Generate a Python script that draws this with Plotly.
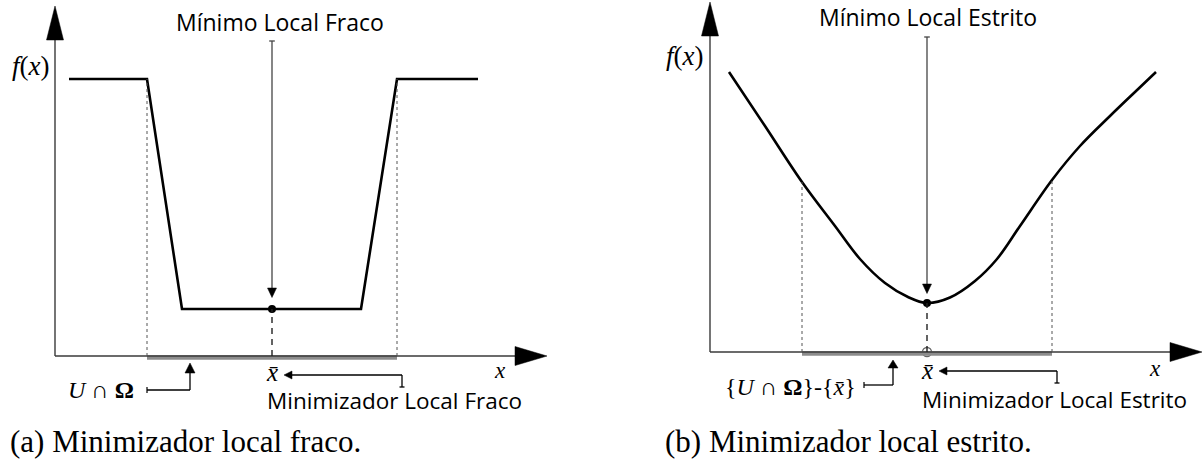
import numpy as np
import plotly.graph_objects as go

# ---------------- data ----------------
# (a) weak local minimizer: flat bottom
fraco_x = [1.4, 9.2, 12.7, 30.6, 34.2, 42.3]
fraco_y = [27.7, 27.7, 4.7, 4.7, 27.7, 27.7]

# (b) strict local minimizer: single smooth valley
estrito_x = [1.9, 5.5, 9.2, 12.5, 15.0, 17.5, 19.8, 21.7, 24.0, 26.5, 28.7, 31.0, 34.2, 37.0, 40.0, 42.5, 44.6]
estrito_y = [28.0, 22.6, 17.0, 12.6, 9.3, 6.9, 5.5, 4.9, 5.45, 7.1, 9.3, 12.6, 17.2, 20.6, 23.6, 26.0, 28.0]

vizinhanca = [9.2, 34.2]      # U ∩ Ω
x_barra = 21.7                # minimizer
f_min_fraco = 4.7
f_min_estrito = 4.9

titulos = ["Mínimo Local Fraco", "Mínimo Local Estrito"]
rotulos_min = ["Minimizador Local Fraco", "Minimizador Local Estrito"]
rotulos_viz = ["<i>U</i> ∩ <b>Ω</b>", "{<i>U</i> ∩ <b>Ω</b>}-{<i>x\u0304</i>}"]
legendas = ["(a) Minimizador local fraco.", "(b) Minimizador local estrito."]

# ---------------- styling ----------------
SANS = "Open Sans"
SERIF = "Liberation Serif"
AXIS_C = "#3a3a3a"
GRAY_C = "#8c8c8c"

fig = go.Figure()
shapes = []
annotations = []


def tri(p1, p2, p3, xr, yr, color="black"):
    path = "M {} {} L {} {} L {} {} Z".format(p1[0], p1[1], p2[0], p2[1], p3[0], p3[1])
    return dict(type="path", path=path, xref=xr, yref=yr,
                fillcolor=color, line=dict(color=color, width=0.5), layer="above")


def seg(x0, y0, x1, y1, xr, yr, color=AXIS_C, width=1.4, dash="solid"):
    return dict(type="line", x0=x0, y0=y0, x1=x1, y1=y1, xref=xr, yref=yr,
                line=dict(color=color, width=width, dash=dash), layer="above")


def text(t, x, y, xr, yr, size, family, xanchor="center", yanchor="middle", color="black"):
    return dict(text=t, x=x, y=y, xref=xr, yref=yr, showarrow=False,
                xanchor=xanchor, yanchor=yanchor, borderpad=0,
                font=dict(size=size, family=family, color=color))


panels = [
    dict(xr="x", yr="y", cx=fraco_x, cy=fraco_y, fmin=f_min_fraco, spline=False,
         title_x=22.45, title_y=33.4, fx_x=-0.4, fx_y=29.0, xl_y=-1.45, xb_y=-1.6,
         min_lbl_y=-4.4, viz_right=8.0, viz_y=-3.4,
         conn=(9.2, 13.5, -3.4, -1.7, -0.7), cap_y=-8.5, open_dot=False),
    dict(xr="x2", yr="y2", cx=estrito_x, cy=estrito_y, fmin=f_min_estrito, spline=True,
         title_x=21.75, title_y=33.5, fx_x=-0.5, fx_y=29.6, xl_y=-1.6, xb_y=-1.8,
         min_lbl_y=-4.75, viz_right=14.7, viz_y=-3.5,
         conn=(15.4, 18.3, -3.3, -1.6, -0.8), cap_y=-8.9, open_dot=True),
]

for i, p in enumerate(panels):
    xr, yr = p["xr"], p["yr"]

    # neighbourhood on the x axis (gray band)
    shapes.append(seg(vizinhanca[0], -0.15, vizinhanca[1], -0.15, xr, yr, color=GRAY_C, width=4.5))

    # axes with filled arrowheads
    shapes.append(seg(0, 0, 0, 31.8, xr, yr))
    shapes.append(seg(0, 0, 46.1, 0, xr, yr))
    shapes.append(tri((-0.85, 31.6), (0.85, 31.6), (0, 35.0), xr, yr))
    shapes.append(tri((46.0, -0.95), (46.0, 0.95), (49.2, 0), xr, yr))

    # dotted verticals at the ends of the neighbourhood
    for xv in vizinhanca:
        ytop = float(np.interp(xv, p["cx"], p["cy"]))
        shapes.append(seg(xv, 0, xv, ytop, xr, yr, color="#555555", width=1, dash="dot"))

    # dashed drop from the minimum to the axis
    shapes.append(seg(x_barra, 0, x_barra, p["fmin"], xr, yr, color="#222222", width=1.4, dash="6px,5px"))

    # function curve
    fig.add_trace(go.Scatter(
        x=p["cx"], y=p["cy"], xaxis=xr, yaxis=yr, mode="lines",
        line=dict(color="black", width=2.6,
                  shape="spline" if p["spline"] else "linear", smoothing=1.0),
        hoverinfo="skip"))

    # minimum point
    fig.add_trace(go.Scatter(
        x=[x_barra], y=[p["fmin"]], xaxis=xr, yaxis=yr, mode="markers",
        marker=dict(color="black", size=8), hoverinfo="skip"))
    if p["open_dot"]:
        fig.add_trace(go.Scatter(
            x=[x_barra], y=[0], xaxis=xr, yaxis=yr, mode="markers",
            marker=dict(color="white", size=9, line=dict(color="#666666", width=1.3)),
            hoverinfo="skip"))

    # arrow pointing at the minimum value
    shapes.append(seg(x_barra, 31.5, x_barra, 6.7, xr, yr, color="#444444", width=1.3))
    shapes.append(seg(x_barra - 0.28, 31.5, x_barra + 0.28, 31.5, xr, yr, color="#444444", width=1.3))
    shapes.append(tri((x_barra - 0.45, 6.8), (x_barra + 0.45, 6.8), (x_barra, 5.85), xr, yr))

    # arrow pointing at the minimizer
    shapes.append(seg(23.6, -1.9, 34.7, -1.9, xr, yr, color="black", width=1.3))
    shapes.append(seg(34.7, -1.9, 34.7, -3.1, xr, yr, color="black", width=1.3))
    shapes.append(seg(34.45, -3.1, 34.95, -3.1, xr, yr, color="black", width=1.3))
    shapes.append(tri((23.7, -1.5), (23.7, -2.3), (22.9, -1.9), xr, yr))

    # connector from the neighbourhood label to the band
    c0, c1, cy, cb, ct = p["conn"]
    shapes.append(seg(c0, cy - 0.3, c0, cy + 0.3, xr, yr, color="black", width=1.2))
    shapes.append(seg(c0, cy, c1, cy, xr, yr, color="black", width=1.3))
    shapes.append(seg(c1, cy, c1, cb, xr, yr, color="black", width=1.3))
    shapes.append(tri((c1 - 0.5, cb), (c1 + 0.5, cb), (c1, ct), xr, yr))

    # texts
    annotations.append(text(titulos[i], p["title_x"], p["title_y"], xr, yr, 23, SANS))
    annotations.append(text("<i>f</i>(<i>x</i>)", p["fx_x"], p["fx_y"], xr, yr, 27, SERIF, xanchor="right"))
    annotations.append(text("<i>x</i>", 44.5, p["xl_y"], xr, yr, 23, SERIF))
    annotations.append(text("<i>x\u0304</i>", x_barra, p["xb_y"], xr, yr, 25, SERIF))
    annotations.append(text(rotulos_min[i], 21.1, p["min_lbl_y"], xr, yr, 22.5, SANS, xanchor="left"))
    annotations.append(text(rotulos_viz[i], p["viz_right"], p["viz_y"], xr, yr, 24, SERIF, xanchor="right"))
    annotations.append(text(legendas[i], -4.6, p["cap_y"], xr, yr, 31, SERIF, xanchor="left"))

# two overlaid coordinate systems, one per panel (10 px per unit)
axis_common = dict(visible=False, fixedrange=True)
fig.update_layout(
    width=1203, height=459, autosize=False,
    margin=dict(l=0, r=0, t=0, b=0, pad=0),
    paper_bgcolor="white", plot_bgcolor="white",
    showlegend=False,
    xaxis=dict(domain=[0, 1], range=[-5.5, 114.8], **axis_common),
    yaxis=dict(domain=[0, 1], range=[-10.3, 35.6], **axis_common),
    xaxis2=dict(domain=[0, 1], range=[-71.0, 49.3], overlaying="x", **axis_common),
    yaxis2=dict(domain=[0, 1], range=[-10.7, 35.2], overlaying="y", **axis_common),
    shapes=shapes,
    annotations=annotations,
)

fig.write_html("out.html")
